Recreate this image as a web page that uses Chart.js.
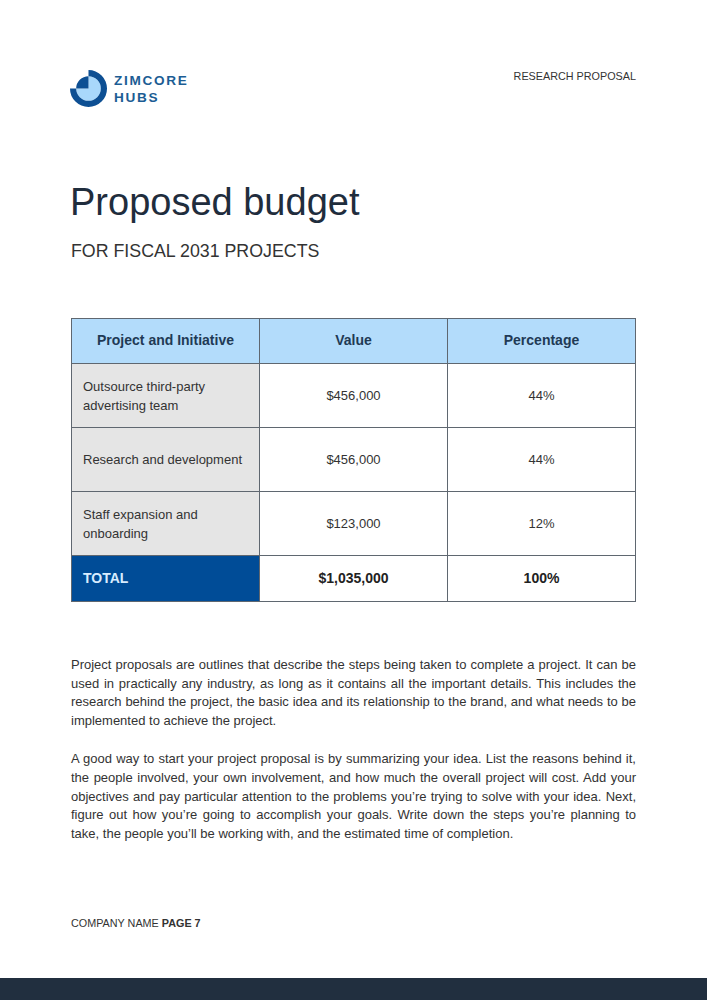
<!DOCTYPE html>
<html>
<head>
<meta charset="utf-8">
<script src="https://cdn.jsdelivr.net/npm/chart.js@4.4.1/dist/chart.umd.min.js"></script>
<style>
  html, body { margin: 0; padding: 0; background: #fff; }
  body { width: 707px; height: 1000px; position: relative; overflow: hidden;
         font-family: "Liberation Sans", Arial, sans-serif; color: #333; }
  #logo { position: absolute; left: 70px; top: 70px; }
  .brand { position: absolute; left: 114px; top: 72px; font-weight: bold; font-size: 13.6px;
           letter-spacing: 1.7px; line-height: 17px; color: #1c5d94; }
  .doc-type { position: absolute; right: 71px; top: 70px; font-size: 10.8px; color: #333; }
  h1 { position: absolute; left: 70px; top: 181px; margin: 0; font-weight: normal;
       font-size: 38px; color: #1f2d3d; }
  .subtitle { position: absolute; left: 71px; top: 241px; font-size: 17.8px; color: #333; }
  table { position: absolute; left: 71px; top: 318px; width: 565px; border-collapse: collapse;
          table-layout: fixed; font-size: 13px; }
  th, td { border: 1px solid #5f6770; text-align: center; padding: 0; }
  th { background: #b3dcfb; color: #1f3a55; font-size: 14px; height: 44px; line-height: 14px; vertical-align: middle; }
  th span { position: relative; top: -1px; }
  td { height: 63px; color: #333; line-height: 19px; }
  td.name { background: #e5e5e5; text-align: left; padding: 0 12px 0 11px; }
  tr.total td { height: 45px; font-weight: bold; font-size: 14px; color: #222; }
  tr.total td.name { background: #004c97; color: #d8ecff; }
  .body-text { position: absolute; left: 71px; top: 656px; width: 565px; font-size: 13px;
               line-height: 18.7px; text-align: justify; color: #333; }
  .body-text p { margin: 0 0 19.5px 0; }
  .footer { position: absolute; left: 71px; top: 917px; font-size: 10.8px; color: #333; }
  .bar { position: absolute; left: 0; top: 978px; width: 707px; height: 22px; background: #212f3f; }
</style>
</head>
<body>
<canvas id="logo" width="37" height="37"></canvas>
<div class="brand">ZIMCORE<br>HUBS</div>
<div class="doc-type">RESEARCH PROPOSAL</div>
<h1>Proposed budget</h1>
<div class="subtitle">FOR FISCAL 2031 PROJECTS</div>
<table id="budget"></table>
<div class="body-text">
  <p>Project proposals are outlines that describe the steps being taken to complete a project. It can be used in practically any industry, as long as it contains all the important details. This includes the research behind the project, the basic idea and its relationship to the brand, and what needs to be implemented to achieve the project.</p>
  <p>A good way to start your project proposal is by summarizing your idea. List the reasons behind it, the people involved, your own involvement, and how much the overall project will cost. Add your objectives and pay particular attention to the problems you’re trying to solve with your idea. Next, figure out how you’re going to accomplish your goals. Write down the steps you’re planning to take, the people you’ll be working with, and the estimated time of completion.</p>
</div>
<div class="footer">COMPANY NAME <b>PAGE 7</b></div>
<div class="bar"></div>

<script>
// table data
const headers = ["Project and Initiative", "Value", "Percentage"];
const projects = ["Outsource third-party advertising team", "Research and development", "Staff expansion and onboarding"];
const values = [456000, 456000, 123000];
const percents = [44, 44, 12];
const totalLabel = "TOTAL";
const totalValue = 1035000;
const totalPercent = 100;

// logo segments (degrees of the circle)
const logoRing = [270, 90];
const logoCore = [270, 90];

const money = v => "$" + v.toLocaleString("en-US");

function buildTable() {
  const tbl = document.getElementById("budget");
  let html = "<tr>" + headers.map(h => `<th><span>${h}</span></th>`).join("") + "</tr>";
  projects.forEach((p, i) => {
    html += `<tr><td class="name">${p}</td><td>${money(values[i])}</td><td>${percents[i]}%</td></tr>`;
  });
  html += `<tr class="total"><td class="name">${totalLabel}</td><td>${money(totalValue)}</td><td>${totalPercent}%</td></tr>`;
  tbl.innerHTML = html;
}

function buildLogo() {
  const ctx = document.getElementById("logo");
  new Chart(ctx, {
    type: "doughnut",
    data: {
      datasets: [
        { data: logoRing, backgroundColor: ["#0d4f93", "rgba(0,0,0,0)"], borderWidth: 0, weight: 1 },
        { data: logoCore, backgroundColor: ["#a9d8fb", "#0d4f93"], borderWidth: 0, weight: 2 }
      ]
    },
    options: {
      responsive: false,
      animation: false,
      cutout: 0,
      plugins: { legend: { display: false }, tooltip: { enabled: false } }
    }
  });
}

buildTable();
buildLogo();
</script>
</body>
</html>
